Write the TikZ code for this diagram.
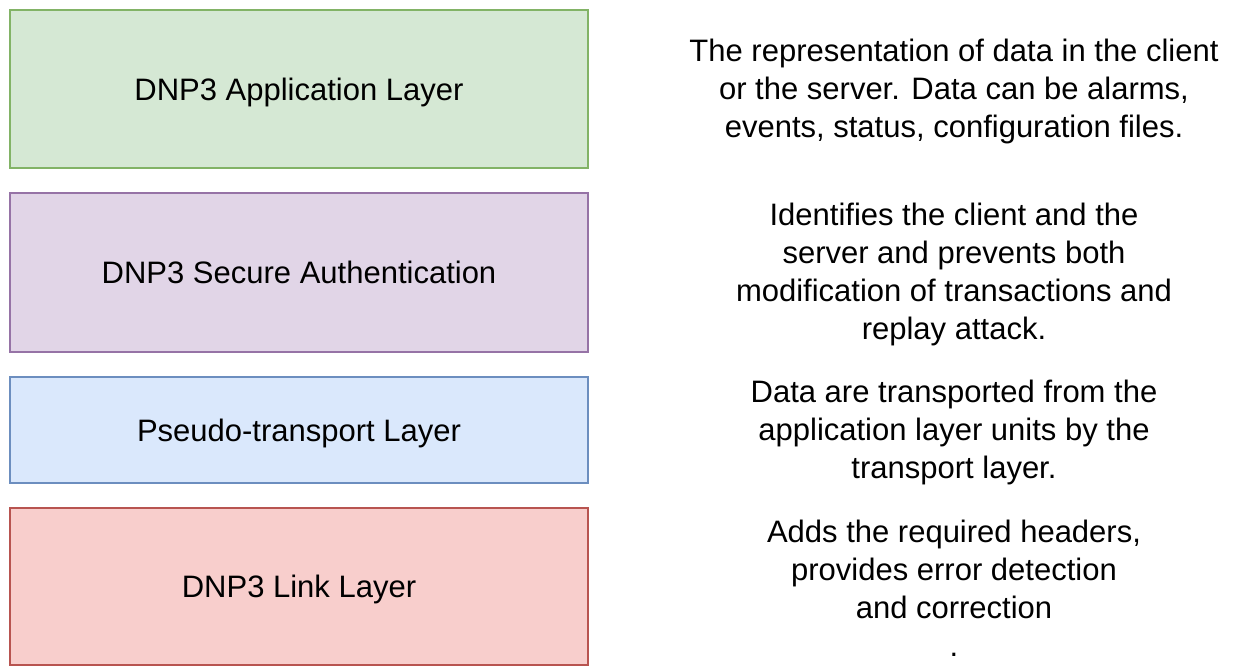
\documentclass[tikz,border=0pt]{standalone}
\usepackage{fontspec}
\setmainfont{Liberation Sans}
\usetikzlibrary{positioning}
\definecolor{appfill}{HTML}{D5E8D4}
\definecolor{appline}{HTML}{82B366}
\definecolor{secfill}{HTML}{E1D5E7}
\definecolor{secline}{HTML}{9673A6}
\definecolor{trfill}{HTML}{DAE8FC}
\definecolor{trline}{HTML}{6C8EBF}
\definecolor{linkfill}{HTML}{F8CECC}
\definecolor{linkline}{HTML}{B85450}
\begin{document}
\begin{tikzpicture}[x=0.5pt, y=-0.5pt, node distance = 327.5pt,
    layer/.style = {draw, line width=1.3pt, minimum width=289pt, inner sep=0pt,
      text depth=0pt, font=\fontsize{15.5}{18}\selectfont},
    info/.style = {align=center, inner sep=0pt, yshift=-1pt, font=\fontsize{15.5}{19}\selectfont}]
      \useasboundingbox (0,0) rectangle (1239,667);
      \node [layer, fill=appfill, draw=appline, minimum height=79pt]    (app)  at (299,89)    {DNP3 Application Layer};
      \node [layer, fill=secfill, draw=secline, minimum height=79.5pt]  (sec)  at (299,272.5) {DNP3 Secure Authentication};
      \node [layer, fill=trfill, draw=trline, minimum height=53pt]      (tr)   at (299,430)   {Pseudo-transport Layer};
      \node [layer, fill=linkfill, draw=linkline, minimum height=78.5pt] (link) at (299,586.5) {DNP3 Link Layer};
      \node [info, right of = app]   (appinfo)  {The representation of data in the client\\or the server. Data can be alarms,\\events, status, configuration files.};
      \node [info, right of = sec]   (secinfo)  {Identifies the client and the\\server and prevents both\\modification of transactions and\\replay attack.};
      \node [info, right of = tr]    (trinfo)   {Data are transported from the\\application layer units by the\\transport layer.};
      \node [info, right of = link]  (linkinfo) {Adds the required headers,\\provides error detection\\and correction\\.};
    \end{tikzpicture}
\end{document}
